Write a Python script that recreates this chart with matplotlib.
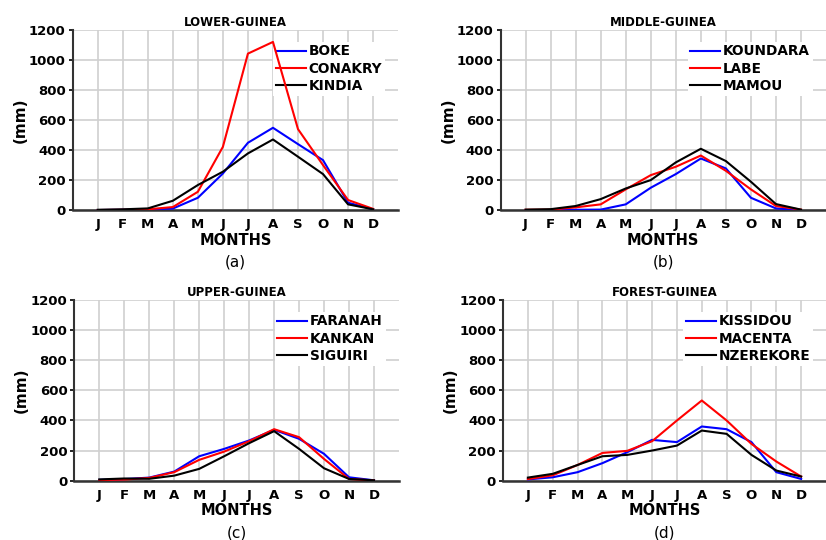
import matplotlib
matplotlib.use("Agg")
import matplotlib.pyplot as plt

months = ["J", "F", "M", "A", "M", "J", "J", "A", "S", "O", "N", "D"]
x = list(range(1, 13))

# pluies mensuelles (mm)
lower_title = "LOWER-GUINEA"
lower_names = ["BOKE", "CONAKRY", "KINDIA"]
boke = [0, 2, 5, 10, 82, 244, 449, 549, 440, 333, 49, 5]
conakry = [0, 2, 5, 20, 122, 422, 1044, 1122, 540, 300, 67, 8]
kindia = [2, 5, 11, 62, 167, 256, 378, 471, 356, 240, 38, 5]

middle_title = "MIDDLE-GUINEA"
middle_names = ["KOUNDARA", "LABE", "MAMOU"]
koundara = [0, 0, 2, 3, 38, 149, 240, 344, 278, 82, 11, 0]
labe = [2, 3, 18, 38, 138, 233, 289, 364, 262, 138, 27, 3]
mamou = [3, 6, 27, 73, 144, 200, 318, 409, 327, 189, 40, 3]

upper_title = "UPPER-GUINEA"
upper_names = ["FARANAH", "KANKAN", "SIGUIRI"]
faranah = [5, 10, 20, 60, 162, 211, 267, 338, 278, 178, 22, 2]
kankan = [3, 7, 18, 56, 138, 193, 262, 342, 289, 144, 11, 1]
siguiri = [8, 14, 12, 33, 78, 162, 249, 329, 211, 82, 11, 2]

forest_title = "FOREST-GUINEA"
forest_names = ["KISSIDOU", "MACENTA", "NZEREKORE"]
kissidou = [8, 22, 56, 116, 189, 271, 256, 360, 342, 256, 56, 11]
macenta = [10, 35, 104, 184, 198, 262, 400, 533, 400, 244, 127, 27]
nzerekore = [20, 45, 104, 162, 171, 200, 233, 333, 311, 171, 67, 27]

colors = ["blue", "red", "black"]

panels = [
    (lower_title, lower_names, [boke, conakry, kindia], "(a)", [0.088, 0.611, 0.394, 0.333]),
    (middle_title, middle_names, [koundara, labe, mamou], "(b)", [0.606, 0.611, 0.394, 0.333]),
    (upper_title, upper_names, [faranah, kankan, siguiri], "(c)", [0.090, 0.110, 0.393, 0.334]),
    (forest_title, forest_names, [kissidou, macenta, nzerekore], "(d)", [0.609, 0.110, 0.391, 0.334]),
]

fig = plt.figure(figsize=(8.26, 5.4), dpi=100)

for title, names, series, letter, pos in panels:
    ax = fig.add_axes(pos)
    for name, vals, c in zip(names, series, colors):
        ax.plot(x, vals, color=c, lw=1.5, label=name, zorder=3)
    ax.set_xlim(0, 13)
    ax.set_ylim(0, 1200)
    ax.set_xticks(x)
    ax.set_xticklabels(months, fontsize=9.5, fontweight="bold")
    ax.set_yticks(range(0, 1201, 200))
    ax.set_yticklabels([str(v) for v in range(0, 1201, 200)], fontsize=9.5, fontweight="bold")
    ax.grid(True, color="#d0d0d0", lw=1.2)
    ax.set_axisbelow(True)
    ax.spines["top"].set_visible(False)
    ax.spines["right"].set_visible(False)
    ax.spines["left"].set_color("#333333")
    ax.spines["bottom"].set_color("#333333")
    ax.spines["left"].set_linewidth(1.5)
    ax.spines["bottom"].set_linewidth(1.8)
    ax.tick_params(axis="x", length=0, pad=6)
    ax.tick_params(axis="y", length=3, width=1.2, pad=2)
    ax.set_title(title, fontsize=8.5, fontweight="bold", pad=3)
    ax.set_ylabel("(mm)", fontsize=11, fontweight="bold", labelpad=1)
    ax.set_xlabel("MONTHS", fontsize=10.5, fontweight="bold", labelpad=1)
    ax.text(0.5, -0.288, letter, transform=ax.transAxes, ha="center", va="center", fontsize=11)
    leg = ax.legend(loc="upper right", bbox_to_anchor=(0.963, 0.944), frameon=True, fancybox=False,
                    prop={"weight": "bold", "size": 9.8}, handlelength=2.2, handletextpad=0.2,
                    labelspacing=0.25, borderaxespad=0.1, borderpad=0.2)
    leg.get_frame().set_edgecolor("none")
    leg.get_frame().set_alpha(1)
    leg.set_zorder(2)

plt.savefig("out.png", dpi=100)
